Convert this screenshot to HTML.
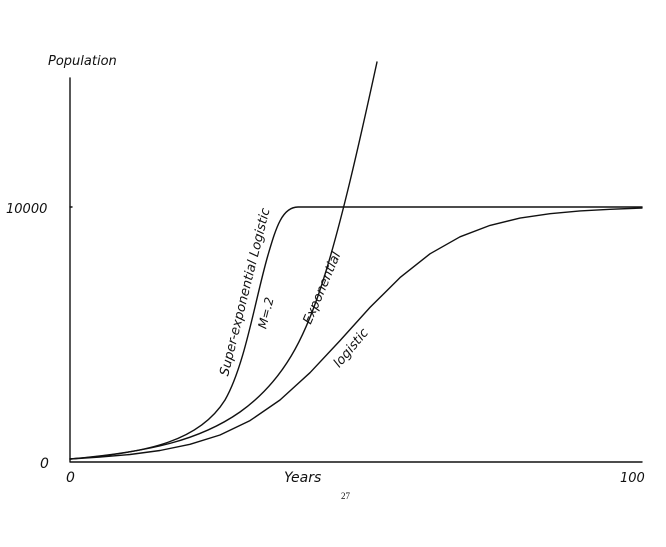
<!DOCTYPE html>
<html><head><meta charset="utf-8"><style>
html,body{margin:0;padding:0;background:#fff;}
svg{display:block;}
text{font-family:"DejaVu Sans","Liberation Sans",sans-serif;font-style:italic;fill:#111;}
</style></head><body>
<svg width="666" height="547" viewBox="0 0 666 547" xmlns="http://www.w3.org/2000/svg">
<g fill="none" stroke="#111" stroke-width="1.4" stroke-linecap="round" stroke-linejoin="round">
<path d="M70,78 L70,462 L642,462"/>
<path d="M70,207 L72,207"/>
<!-- logistic -->
<polyline points="70,459 100,457 130,454.5 160,450.5 190,444.3 220,435 250,420.6 280,400 310,372.7 340,340.6 370,307.4 400,277.6 430,253.8 460,236.8 490,225.4 520,218.1 550,213.7 580,210.9 610,209.3 642,208"/>
<!-- exponential -->
<path d="M70,459 C150,452 200,440 240,412 C285,380 305,335 320,290 C340,230 360,140 377,62"/>
<!-- super-exponential -->
<path d="M70,459 C150,453 200,440 225,400 C245,365 255,300 268,255 C276,228 282,207 298,207 L642,207"/>
</g>
<text x="48" y="65" font-size="13">Population</text>
<text x="6" y="213" font-size="13">10000</text>
<text x="40" y="468" font-size="14">0</text>
<text x="66" y="482" font-size="14">0</text>
<text x="284" y="482" font-size="14">Years</text>
<text x="620" y="482" font-size="13">100</text>
<text x="341" y="499" font-size="9" style="font-family:'Liberation Serif',serif;font-style:normal">27</text>
<text x="245" y="296" font-size="13" text-anchor="middle" transform="rotate(-76 245 292)">Super-exponential Logistic</text>
<text x="266" y="317" font-size="12" text-anchor="middle" transform="rotate(-76 266 313)">M=.2</text>
<text x="322" y="292" font-size="13" text-anchor="middle" transform="rotate(-67 322 288)">Exponential</text>
<text x="351" y="352" font-size="13" text-anchor="middle" transform="rotate(-50 351 348)">logistic</text>
</svg>
</body></html>
